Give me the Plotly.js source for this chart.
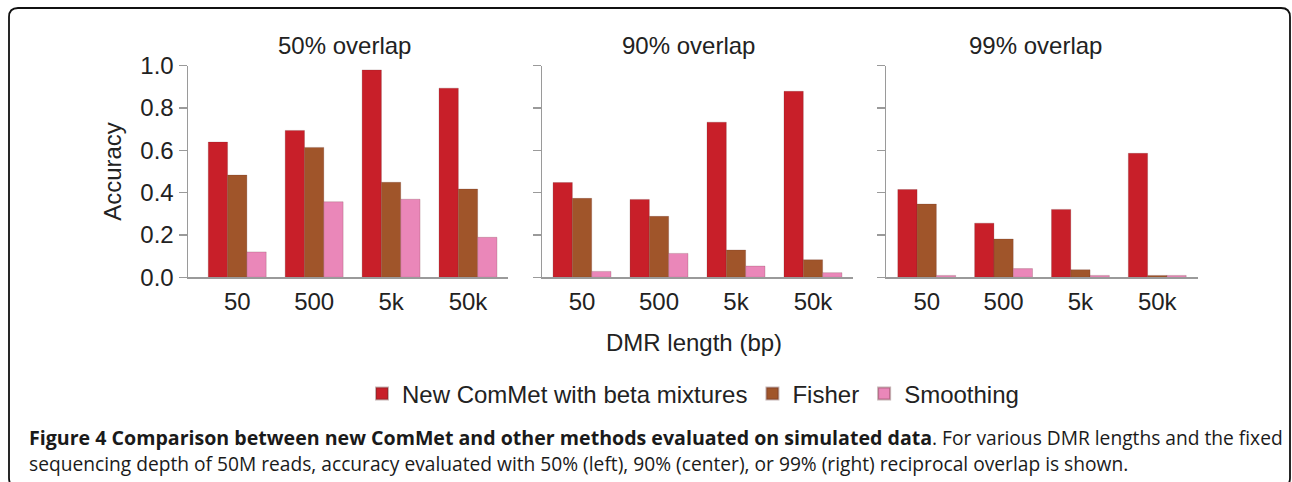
<!DOCTYPE html>
<html>
<head>
<meta charset="utf-8">
<script src="https://cdn.plot.ly/plotly-3.0.1.min.js"></script>
<style>html,body{margin:0;padding:0;background:#fff;}#chart{width:1292px;height:482px;}</style>
</head>
<body>
<div id="chart"></div>
<script>
// ---- data ----
const categories = ["50", "500", "5k", "50k"];
const panelTitles = ["50% overlap", "90% overlap", "99% overlap"];
const seriesNames = ["New ComMet with beta mixtures", "Fisher", "Smoothing"];
const seriesColors = ["#C81F29", "#A0552A", "#EA87B9"];
// values per panel: [ComMet, Fisher, Smoothing]
const overlap50_comet = [0.639, 0.694, 0.980, 0.894];
const overlap50_fisher = [0.483, 0.614, 0.449, 0.417];
const overlap50_smooth = [0.120, 0.357, 0.369, 0.189];
const overlap90_comet = [0.448, 0.368, 0.733, 0.879];
const overlap90_fisher = [0.373, 0.288, 0.129, 0.083];
const overlap90_smooth = [0.028, 0.113, 0.053, 0.022];
const overlap99_comet = [0.415, 0.256, 0.321, 0.586];
const overlap99_fisher = [0.346, 0.181, 0.036, 0.009];
const overlap99_smooth = [0.009, 0.041, 0.009, 0.009];
const yTicks = [0, 0.2, 0.4, 0.6, 0.8, 1.0];
const yTickLabels = ["0.0", "0.2", "0.4", "0.6", "0.8", "1.0"];
const xTitle = "DMR length (bp)";
const yTitle = "Accuracy";
const captionBold = "Figure 4 Comparison between new ComMet and other methods evaluated on simulated data";
const captionRest1 = ". For various DMR lengths and the fixed";
const captionLine2 = "sequencing depth of 50M reads, accuracy evaluated with 50% (left), 90% (center), or 99% (right) reciprocal overlap is shown.";

const panels = [
  [overlap50_comet, overlap50_fisher, overlap50_smooth],
  [overlap90_comet, overlap90_fisher, overlap90_smooth],
  [overlap99_comet, overlap99_fisher, overlap99_smooth]
];

// ---- layout helpers ----
const W = 1292, H = 482;
const px = v => v / W;
const py = v => 1 - v / H;
const FONT = "Liberation Sans, Arial, sans-serif";
const FS = 24;
const TXT = "#222222";
const AX = "#9a9a9a";

const traces = [];
panels.forEach((pd, p) => {
  pd.forEach((vals, s) => {
    traces.push({
      type: "bar",
      x: categories,
      y: vals,
      name: seriesNames[s],
      legendgroup: seriesNames[s],
      showlegend: p === 0,
      xaxis: p === 0 ? "x" : "x" + (p + 1),
      yaxis: p === 0 ? "y" : "y" + (p + 1),
      marker: { color: seriesColors[s], line: { color: "rgba(90,40,40,0.35)", width: 0.6 } },
      hoverinfo: "x+y+name"
    });
  });
});

const xDomains = [[px(188), px(508)], [px(542), px(853)], [px(886), px(1198)]];
const xRanges = [[-0.64, 3.52], [-0.52, 3.52], [-0.53, 3.53]];
const yDomain = [py(277.3), py(65.7)];

const layout = {
  width: W, height: H,
  margin: { l: 0, r: 0, t: 0, b: 0, pad: 0 },
  paper_bgcolor: "#ffffff",
  plot_bgcolor: "rgba(0,0,0,0)",
  barmode: "group",
  bargap: 0.247,
  bargroupgap: 0,
  font: { family: FONT, color: TXT, size: FS },
  showlegend: true,
  legend: {
    orientation: "h",
    x: px(693), xanchor: "center",
    y: py(394), yanchor: "middle",
    font: { family: FONT, size: FS, color: TXT },
    itemsizing: "constant",
    itemwidth: 30,
    traceorder: "normal",
    bgcolor: "rgba(0,0,0,0)"
  },
  annotations: [],
  shapes: []
};

for (let p = 0; p < 3; p++) {
  const xs = p === 0 ? "xaxis" : "xaxis" + (p + 1);
  const ys = p === 0 ? "yaxis" : "yaxis" + (p + 1);
  layout[xs] = {
    domain: xDomains[p],
    anchor: p === 0 ? "y" : "y" + (p + 1),
    type: "category",
    range: xRanges[p],
    showline: true, linecolor: AX, linewidth: 1.5,
    showgrid: false, zeroline: false,
    ticks: "outside", ticklen: 2, tickcolor: "rgba(0,0,0,0)",
    tickfont: { family: FONT, size: FS, color: TXT },
    fixedrange: true
  };
  layout[ys] = {
    domain: yDomain,
    anchor: p === 0 ? "x" : "x" + (p + 1),
    range: [0, 1],
    tickvals: yTicks,
    ticktext: yTickLabels,
    showticklabels: p === 0,
    showline: true, linecolor: AX, linewidth: 1.5,
    showgrid: false, zeroline: false,
    ticks: "outside", ticklen: 8, tickwidth: 1.5, tickcolor: AX,
    tickfont: { family: FONT, size: FS, color: TXT },
    fixedrange: true
  };
}
layout.yaxis.title = { text: yTitle, font: { family: FONT, size: FS, color: TXT }, standoff: 12 };

const titleX = [345, 688, 1035];
panelTitles.forEach((t, i) => {
  layout.annotations.push({
    xref: "paper", yref: "paper", x: px(titleX[i]), y: py(45),
    xanchor: "center", yanchor: "middle", showarrow: false,
    text: t, font: { family: FONT, size: FS, color: TXT }
  });
});
layout.annotations.push({
  xref: "paper", yref: "paper", x: px(694), y: py(342),
  xanchor: "center", yanchor: "middle", showarrow: false,
  text: xTitle, font: { family: FONT, size: FS, color: TXT }
});
layout.annotations.push({
  xref: "paper", yref: "paper", x: px(27), y: py(437),
  xanchor: "left", yanchor: "middle", showarrow: false, align: "left",
  text: "<b><span style=\"font-size:19.6px\">" + captionBold + "</span></b>" + captionRest1,
  font: { family: "Open Sans, sans-serif", size: 19.2, color: "#1a1a1a" }
});
layout.annotations.push({
  xref: "paper", yref: "paper", x: px(27), y: py(463),
  xanchor: "left", yanchor: "middle", showarrow: false, align: "left",
  text: captionLine2,
  font: { family: "Open Sans, sans-serif", size: 19.2, color: "#1a1a1a" }
});

// rounded frame
const L = 9, T = 8, R = 1290, B = 487, r = 9;
const path = [
  "M", px(L), py(B - r),
  "L", px(L), py(T + r),
  "Q", px(L), py(T), px(L + r), py(T),
  "L", px(R - r), py(T),
  "Q", px(R), py(T), px(R), py(T + r),
  "L", px(R), py(B - r),
  "Q", px(R), py(B), px(R - r), py(B),
  "L", px(L + r), py(B),
  "Q", px(L), py(B), px(L), py(B - r),
  "Z"
].join(" ");
layout.shapes.push({
  type: "path", xref: "paper", yref: "paper", path: path,
  line: { color: "#111111", width: 1.8 }, fillcolor: "rgba(0,0,0,0)", layer: "above"
});

Plotly.newPlot("chart", traces, layout, { displayModeBar: false, staticPlot: true });
</script>
</body>
</html>
